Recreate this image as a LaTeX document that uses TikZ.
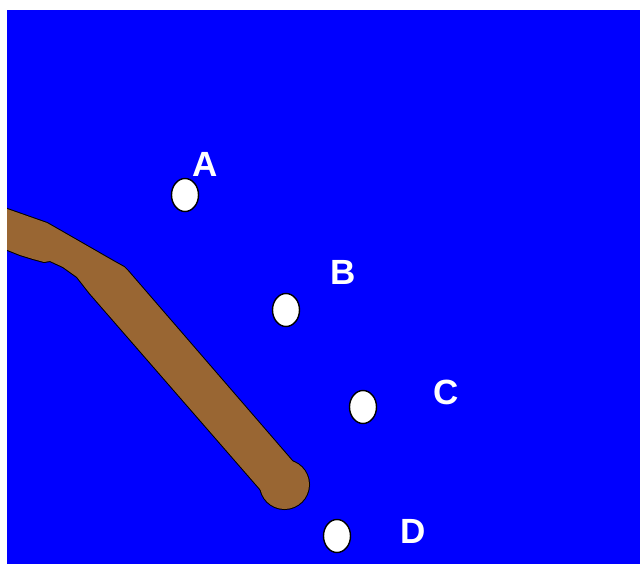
\documentclass[tikz,border=0pt]{standalone}
\usepackage{fontspec}
\setsansfont{Liberation Sans}
\usetikzlibrary{shapes.geometric}
\definecolor{mud}{RGB}{153,102,51}
\newcommand{\bedpath}{(0,206.5) -- (47,223) -- (115,262) -- (124,267) -- (128,271) -- (300,470) -- (269.6,500) -- (89.5,293) -- (77,277) -- (63,267) -- (50,261) -- (44,262) -- (33,259) -- (20,255) -- (0,247) -- cycle}
\begin{document}
\begin{tikzpicture}[x=1pt,y=-1pt,
		hole/.style={ellipse,draw=black,line width=1.4pt,fill=white,minimum width=27pt,minimum height=33pt,inner sep=0pt},
		lbl/.style={text=white,font=\sffamily\bfseries\fontsize{35}{35}\selectfont,inner sep=0pt}]
		\useasboundingbox (0,0) rectangle (640,564);
		\fill[blue] (7,10) rectangle (640,564);
		% river bed: outline first, then fill
		\draw[black,line width=2pt,line join=round] \bedpath;
		\draw[black,line width=2pt] (284.5,484.5) circle (24.5);
		\fill[mud] \bedpath;
		\fill[mud] (284.5,484.5) circle (24.5);
		\fill[white] (0,0) rectangle (7,564);
		\fill[white] (0,0) rectangle (640,10);
		% holes
		\node[hole] (a) at (185,195) {};
		\node[hole] (b) at (286,310) {};
		\node[hole] (c) at (363,407) {};
		\node[hole] (d) at (337,536) {};
		\node[lbl] (la) at (205,164) {A};
		\node[lbl] (lb) at (343,272) {B};
		\node[lbl] (lc) at (446,392) {C};
		\node[lbl] (ld) at (413,531) {D};
	\end{tikzpicture}
\end{document}
